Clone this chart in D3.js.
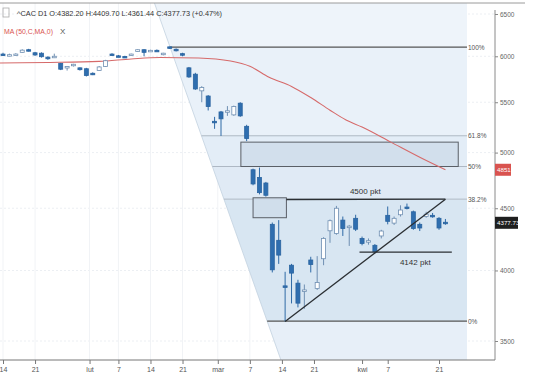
<!DOCTYPE html>
<meta charset="utf-8">
<script src="https://cdn.jsdelivr.net/npm/d3@7"></script>
<style>
  body { margin: 0; background: #fff; }
  text { font-family: "Liberation Sans", Arial, sans-serif; }
</style>
<div id="chart"></div>
<script>
// trading days (CAC 40, 2020) - Good Friday / Easter Monday closed
const janDays = [14,15,16,17,20,21,22,23,24,27,28,29,30,31];
const febDays = [3,4,5,6,7,10,11,12,13,14,17,18,19,20,21,24,25,26,27,28];
const marDays = [2,3,4,5,6,9,10,11,12,13,16,17,18,19,20,23,24,25,26,27,30,31];
const aprDays = [1,2,3,6,7,8,9,14,15,16,17,20,21,22];

const open  = [6025,6010,6020,6045,6075,6040,6035,5990,5985,5920,5870,5895,5870,5860,5810,5840,5885,6025,6005,5998,
               6010,6055,6075,6060,6068,6020,6108,6080,6030,5870,5800,5620,5565,5305,5400,5405,5370,5490,5255,4840,
               4770,4720,4365,4235,3885,4040,3905,3845,4080,3865,4090,4312,4290,4400,4340,4415,4250,4225,4195,4270,
               4440,4375,4445,4510,4470,4365,4430,4440,4415,4382.20];
const high  = [6040,6030,6035,6080,6085,6050,6045,6000,6030,5925,5890,5915,5875,5870,5820,5890,5960,6035,6015,6005,
               6030,6080,6080,6075,6078,6040,6111,6090,6040,5880,5815,5670,5575,5350,5410,5460,5465,5500,5270,4850,
               4860,4730,4380,4400,3990,4050,3930,3895,4105,4110,4260,4405,4520,4430,4360,4445,4265,4250,4205,4320,
               4515,4430,4525,4540,4480,4380,4470,4460,4425,4409.70];
const low   = [6005,6000,6005,6040,6055,6005,5985,5960,5980,5845,5840,5885,5840,5775,5790,5835,5880,6005,5990,5980,
               6005,6050,6000,6055,6058,6010,6085,6055,6000,5760,5630,5500,5415,5230,5160,5360,5360,5350,5110,4700,
               4620,4600,3985,4050,3632,3758,3730,3720,3985,3855,4040,4215,4280,4270,4190,4310,4195,4200,4130,4250,
               4365,4360,4430,4490,4320,4310,4420,4420,4320,4361.44];
const close = [6012,6018,6025,6070,6065,6015,5995,5972,6000,5855,5885,5910,5850,5785,5798,5880,5950,6012,6000,5988,
               6025,6075,6045,6068,6062,6035,6095,6065,6012,5770,5640,5655,5455,5300,5330,5412,5455,5360,5135,4712,
               4635,4612,4005,4118,3878,3980,3760,3855,4045,3910,4250,4395,4500,4330,4350,4325,4210,4232,4145,4310,
               4390,4415,4485,4498,4330,4335,4450,4430,4335,4377.73];

// 50-day MA (trading-day index, value)
const maIdx = [-0.5, 7, 15, 20, 24.5, 30.5, 35.5, 38.5, 41.5, 45, 48, 51, 53.5, 56, 60.5, 65, 69];
const maVal = [5924,5930,5942,5970,5987,5981,5946,5887,5766,5667,5549,5418,5318,5248,5100,4956,4840];

// axis ticks
const priceTicks = [3500, 4000, 4500, 5000, 5500, 6000, 6500];
const tickDates  = ["2020-01-14","2020-01-21","2020-02-01","2020-02-07","2020-02-14","2020-02-21","2020-03-01",
                    "2020-03-07","2020-03-14","2020-03-21","2020-04-01","2020-04-07","2020-04-21"];
const tickLabels = ["14","21","lut","7","14","21","mar","7","14","21","kwi","7","21"];

// fibonacci retracement
const fibHigh = 6106, fibLow = 3634;
const fibLevels = [1, 0.618, 0.5, 0.382, 0];
const fibLabels = ["100%", "61.8%", "50%", "38.2%", "0%"];

const pad = n => String(n).padStart(2, "0");
const days = [].concat(
  janDays.map(d => "2020-01-" + pad(d)), febDays.map(d => "2020-02-" + pad(d)),
  marDays.map(d => "2020-03-" + pad(d)), aprDays.map(d => "2020-04-" + pad(d)));
const candles = days.map((d, i) => ({date: d, i: i, o: open[i], h: high[i], l: low[i], c: close[i]}));

function dateIdx(s) {
  const i = days.indexOf(s);
  if (i >= 0) return i;
  return days.findIndex(d => d > s) - 0.5;
}

const W = 536, H = 391;
const plotTop = 3, plotBottom = 360, plotRight = 495, fibRight = 467;

const svg = d3.select("#chart").append("svg").attr("width", W).attr("height", H);

const x = d3.scaleLinear().domain([0, 68]).range([3, 439]);
const y = d3.scaleLog().domain([3500, 6500]).range([341, 14]);

// faint grid
svg.append("g").selectAll("line").data(priceTicks).join("line")
  .attr("x1", 0).attr("x2", plotRight).attr("y1", d => y(d)).attr("y2", d => y(d))
  .attr("stroke", "#eceff3").attr("stroke-dasharray", "2,2");
svg.append("g").selectAll("line").data(tickDates).join("line")
  .attr("x1", d => x(dateIdx(d))).attr("x2", d => x(dateIdx(d)))
  .attr("y1", plotTop).attr("y2", plotBottom)
  .attr("stroke", "#f1f3f6");

// fib shading, left edge is the diagonal of the tool
const p1 = [x(26.05), y(fibHigh)], p2 = [x(41.2), y(fibLow)];
const xd = yy => p1[0] + (yy - p1[1]) * (p2[0] - p1[0]) / (p2[1] - p1[1]);
const fibY = fibLevels.map(l => y(fibLow + l * (fibHigh - fibLow)));
const bandEdges = [plotTop].concat(fibY).concat([plotBottom]);
const bandColors = ["#eef4fa", "#e9f1f9", "#e3edf7", "#e0eaf5", "#d8e6f2", "#e7eff8"];
for (let b = 0; b < bandEdges.length - 1; b++) {
  const y0 = bandEdges[b], y1 = bandEdges[b + 1];
  svg.append("polygon")
    .attr("points", [[xd(y0), y0], [fibRight, y0], [fibRight, y1], [xd(y1), y1]].map(p => p.join(",")).join(" "))
    .attr("fill", bandColors[b]);
}
svg.append("line")
  .attr("x1", xd(plotTop)).attr("y1", plotTop).attr("x2", xd(plotBottom)).attr("y2", plotBottom)
  .attr("stroke", "#c3d2e0").attr("stroke-width", 0.8);

// fib level lines + labels
svg.append("g").selectAll("line").data(fibLevels).join("line")
  .attr("x1", (d, i) => xd(fibY[i])).attr("x2", fibRight)
  .attr("y1", (d, i) => fibY[i]).attr("y2", (d, i) => fibY[i])
  .attr("stroke", d => (d === 1 || d === 0) ? "#555" : "#aeb8c4")
  .attr("stroke-width", d => (d === 1 || d === 0) ? 1.3 : 1);
svg.append("g").selectAll("text").data(fibLabels).join("text")
  .attr("x", 468).attr("y", (d, i) => fibY[i] + 2.5)
  .attr("font-size", 6.5).attr("fill", "#555").text(d => d);

// zone boxes
const boxes = [
  {i0: 37.1, i1: 71, v0: 4870, v1: 5100},
  {i0: 39.0, i1: 44.2, v0: 4420, v1: 4590}
];
svg.append("g").selectAll("rect").data(boxes).join("rect")
  .attr("x", d => x(d.i0)).attr("width", d => x(d.i1) - x(d.i0))
  .attr("y", d => y(d.v1)).attr("height", d => y(d.v0) - y(d.v1))
  .attr("fill", "#cfdcea").attr("fill-opacity", 0.85)
  .attr("stroke", "#5a5f66").attr("stroke-width", 1);

// moving average
const maLine = d3.line().x(d => x(d[0])).y(d => y(d[1])).curve(d3.curveMonotoneX);
svg.append("path")
  .datum(maIdx.map((d, i) => [d, maVal[i]]))
  .attr("d", maLine)
  .attr("fill", "none").attr("stroke", "#d66a6a").attr("stroke-width", 1.1);

// candles
const bw = 4;
const cg = svg.append("g");
cg.selectAll("line").data(candles).join("line")
  .attr("x1", d => x(d.i)).attr("x2", d => x(d.i))
  .attr("y1", d => y(d.h)).attr("y2", d => y(d.l))
  .attr("stroke", d => d.c >= d.o ? "#6f8fb2" : "#2f6aa6").attr("stroke-width", 1);
cg.selectAll("rect").data(candles).join("rect")
  .attr("x", d => x(d.i) - bw / 2).attr("width", bw)
  .attr("y", d => y(Math.max(d.o, d.c)))
  .attr("height", d => Math.max(1.5, Math.abs(y(d.o) - y(d.c))))
  .attr("fill", d => d.c >= d.o ? "#ffffff" : "#2f6eaf")
  .attr("stroke", d => d.c >= d.o ? "#6f8fb2" : "#2a64a0")
  .attr("stroke-width", 0.8);

// hand drawn trend lines
const trend = [
  {a: [44, 3632], b: [69, 4578]},
  {a: [44.2, 4575], b: [69, 4578]},
  {a: [55.6, 4142], b: [70, 4142]}
];
svg.append("g").selectAll("line").data(trend).join("line")
  .attr("x1", d => x(d.a[0])).attr("y1", d => y(d.a[1]))
  .attr("x2", d => x(d.b[0])).attr("y2", d => y(d.b[1]))
  .attr("stroke", "#2b2f33").attr("stroke-width", 1.3);
svg.append("text").attr("x", x(56.5)).attr("y", y(4578) - 5)
  .attr("text-anchor", "middle").attr("font-size", 8).attr("fill", "#333").text("4500 pkt");
svg.append("text").attr("x", x(64.3)).attr("y", y(4142) + 13)
  .attr("text-anchor", "middle").attr("font-size", 8).attr("fill", "#333").text("4142 pkt");

// frame
svg.append("line").attr("x1", 0).attr("x2", 525).attr("y1", plotTop).attr("y2", plotTop)
  .attr("stroke", "#9a9a9a");
svg.append("line").attr("x1", plotRight).attr("x2", plotRight).attr("y1", 10).attr("y2", plotBottom)
  .attr("stroke", "#8a8a8a");
svg.append("line").attr("x1", 0).attr("x2", plotRight).attr("y1", plotBottom).attr("y2", plotBottom)
  .attr("stroke", "#777");

// right price axis
const yAxis = svg.append("g").attr("transform", `translate(${plotRight},0)`)
  .call(d3.axisRight(y).tickValues(priceTicks).tickFormat(d3.format("d")).tickSize(3).tickPadding(2));
yAxis.select(".domain").remove();
yAxis.selectAll("line").attr("stroke", "#888");
yAxis.selectAll("text").attr("font-size", 6.5).attr("fill", "#666")
  .style("font-family", "'Liberation Sans', Arial, sans-serif");

// bottom date axis
const xAxis = svg.append("g").attr("transform", `translate(0,${plotBottom})`)
  .call(d3.axisBottom(x).tickValues(tickDates.map(dateIdx)).tickFormat((d, i) => tickLabels[i]).tickSize(4).tickPadding(3));
xAxis.select(".domain").remove();
xAxis.selectAll("line").attr("stroke", "#777");
xAxis.selectAll("text").attr("font-size", 7).attr("fill", "#555")
  .style("font-family", "'Liberation Sans', Arial, sans-serif");

// price flags
const lastMA = maVal[maVal.length - 1];
const flags = [
  {v: lastMA, label: "4851", fill: "#d9534f", w: 16},
  {v: close[close.length - 1], label: "4377.73", fill: "#1f1f1f", w: 23}
];
const fg = svg.append("g").selectAll("g").data(flags).join("g")
  .attr("transform", d => `translate(${plotRight},${y(d.v)})`);
fg.append("rect").attr("x", 0).attr("y", -6).attr("width", d => d.w).attr("height", 12)
  .attr("fill", d => d.fill);
fg.append("text").attr("x", 2).attr("y", 2.5).attr("font-size", 6.2).attr("fill", "#fff").text(d => d.label);

// header
svg.append("rect").attr("x", 3).attr("y", 8).attr("width", 6).attr("height", 9)
  .attr("fill", "none").attr("stroke", "#aaa").attr("stroke-width", 0.8);
svg.append("text").attr("x", 17).attr("y", 16).attr("font-size", 7.5).attr("fill", "#333")
  .attr("textLength", 205).attr("lengthAdjust", "spacingAndGlyphs")
  .text("^CAC D1 O:4382.20 H:4409.70 L:4361.44 C:4377.73 (+0.47%)");
svg.append("text").attr("x", 4).attr("y", 34).attr("font-size", 7).attr("fill", "#d9534f")
  .attr("textLength", 49).attr("lengthAdjust", "spacingAndGlyphs")
  .text("MA (50,C,MA,0)");
svg.append("text").attr("x", 60).attr("y", 34).attr("font-size", 8).attr("fill", "#555").text("X");
</script>
